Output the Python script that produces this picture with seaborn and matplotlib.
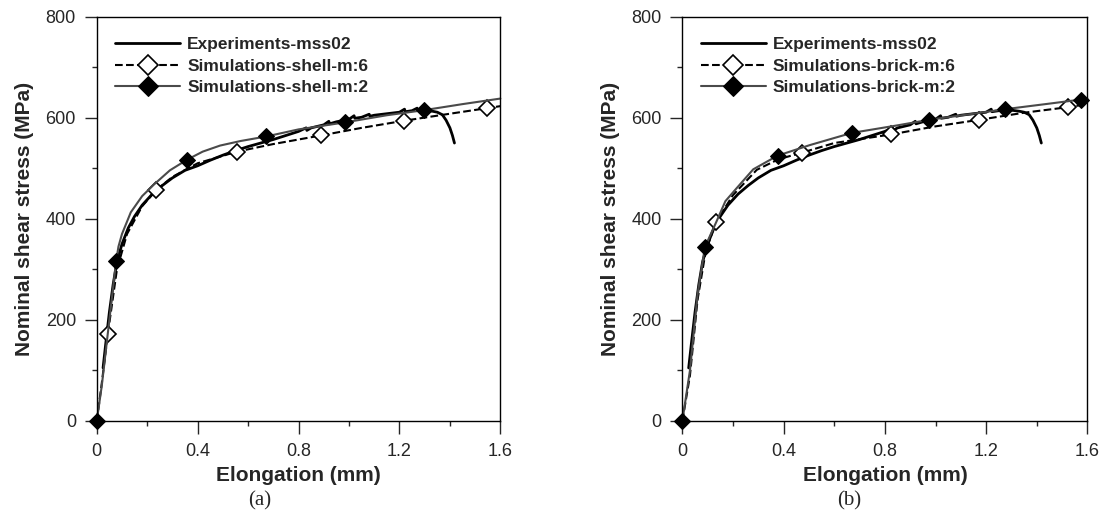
import matplotlib
matplotlib.use("Agg")
import matplotlib.pyplot as plt
import seaborn as sns
from matplotlib.ticker import MultipleLocator, FuncFormatter

# experiment mss02 (same test shown in both panels)
exp_x = [0.025, 0.035, 0.05, 0.065, 0.08, 0.1, 0.125, 0.15, 0.18, 0.22, 0.26, 0.3,
         0.35, 0.4, 0.45, 0.5, 0.55, 0.6, 0.65, 0.7, 0.75, 0.8, 0.83, 0.833, 0.85,
         0.9, 0.92, 0.923, 0.95, 1.0, 1.02, 1.023, 1.05, 1.08, 1.083, 1.1, 1.15,
         1.2, 1.22, 1.223, 1.25, 1.27, 1.273, 1.3, 1.33, 1.35, 1.37, 1.385, 1.4,
         1.41, 1.418]
exp_y = [105, 150, 215, 270, 315, 350, 382, 405, 427, 449, 466, 481,
         496, 505, 516, 526, 535, 543, 550, 557, 565, 573, 580, 575, 580,
         586, 593, 588, 592, 597, 604, 599, 601, 607, 603, 605, 608,
         611, 617, 612, 614, 619, 615, 615, 613, 611, 606, 595, 580,
         565, 550]

# panel (a): shell models
shell6_x = [0, 0.02, 0.044, 0.08, 0.12, 0.18, 0.236, 0.3, 0.4, 0.556, 0.7, 0.889,
            1.05, 1.217, 1.4, 1.547, 1.6]
shell6_y = [0, 75, 173, 300, 370, 425, 457, 483, 510, 533, 548, 565,
            580, 594, 608, 619, 623]
shell6_mk = [2, 6, 9, 11, 13, 15]

shell2_x = [0, 0.02, 0.05, 0.077, 0.086, 0.1, 0.135, 0.18, 0.227, 0.29, 0.358,
            0.42, 0.489, 0.57, 0.672, 0.8, 0.986, 1.15, 1.297, 1.45, 1.6]
shell2_y = [0, 70, 200, 317, 345, 370, 413, 445, 468, 496, 517,
            533, 545, 554, 563, 577, 591, 605, 615, 627, 638]
shell2_mk = [0, 3, 10, 14, 16, 18]

# panel (b): brick models
brick6_x = [0, 0.03, 0.06, 0.092, 0.132, 0.2, 0.294, 0.38, 0.473, 0.6, 0.824, 1.0,
            1.173, 1.35, 1.524, 1.6]
brick6_y = [0, 90, 240, 335, 393, 447, 497, 518, 531, 550, 567, 583,
            596, 610, 621, 627]
brick6_mk = [4, 8, 10, 12, 14]

brick2_x = [0, 0.03, 0.06, 0.089, 0.136, 0.17, 0.215, 0.28, 0.376, 0.504, 0.669,
            0.85, 0.975, 1.15, 1.275, 1.45, 1.574, 1.6]
brick2_y = [0, 100, 250, 344, 396, 435, 461, 498, 525, 546, 570,
            585, 596, 608, 617, 628, 636, 637]
brick2_mk = [0, 3, 8, 10, 12, 14, 16]

panels = [
    ("(a)", "shell", shell6_x, shell6_y, shell6_mk, shell2_x, shell2_y, shell2_mk),
    ("(b)", "brick", brick6_x, brick6_y, brick6_mk, brick2_x, brick2_y, brick2_mk),
]

sns.set_style("ticks")
plt.rcParams['font.family'] = ['Liberation Sans', 'DejaVu Sans']

fig = plt.figure(figsize=(11.07, 5.2), dpi=100)
ax_a = fig.add_axes([0.0874, 0.1904, 0.3646, 0.7775])
ax_b = fig.add_axes([0.6164, 0.1904, 0.3659, 0.7775])
caption_x = [0.235, 0.767]

for ax, (tag, kind, x6, y6, mk6, x2, y2, mk2), cx in zip([ax_a, ax_b], panels, caption_x):
    sns.lineplot(x=exp_x, y=exp_y, ax=ax, sort=False, estimator=None,
                 color="black", linewidth=2.0, label="Experiments-mss02")
    sns.lineplot(x=x6, y=y6, ax=ax, sort=False, estimator=None,
                 color="black", linewidth=1.5, linestyle="--",
                 marker="D", markevery=mk6, markersize=8, clip_on=False,
                 markerfacecolor="white", markeredgecolor="black", markeredgewidth=1.2,
                 label=f"Simulations-{kind}-m:6")
    sns.lineplot(x=x2, y=y2, ax=ax, sort=False, estimator=None,
                 color="#4a4a4a", linewidth=1.5,
                 marker="D", markevery=mk2, markersize=8, clip_on=False,
                 markerfacecolor="black", markeredgecolor="black",
                 label=f"Simulations-{kind}-m:2")

    ax.set_xlim(0, 1.6)
    ax.set_ylim(0, 800)
    ax.xaxis.set_major_locator(MultipleLocator(0.4))
    ax.xaxis.set_minor_locator(MultipleLocator(0.2))
    ax.yaxis.set_major_locator(MultipleLocator(200))
    ax.yaxis.set_minor_locator(MultipleLocator(100))
    ax.xaxis.set_major_formatter(FuncFormatter(
        lambda v, p: "0" if abs(v) < 1e-9 else f"{v:.1f}"))
    ax.yaxis.set_major_formatter(FuncFormatter(lambda v, p: f"{v:.0f}"))
    ax.tick_params(axis="both", which="major", direction="out", length=9, width=1,
                   labelsize=13)
    ax.tick_params(axis="both", which="minor", direction="out", length=3.6, width=1)
    ax.tick_params(axis="x", which="major", pad=7)
    ax.tick_params(axis="y", which="major", pad=6)
    for s in ax.spines.values():
        s.set_linewidth(1.0)
        s.set_color("black")

    ax.set_xlabel("Elongation (mm)", fontsize=15, fontweight="bold", labelpad=4)
    ax.set_ylabel("Nominal shear stress (MPa)", fontsize=15, fontweight="bold", labelpad=8)

    ax.legend(loc="upper left", frameon=False, prop={"weight": "bold", "size": 12.5},
              handlelength=3.75, handletextpad=0.4, markerscale=1.3, labelspacing=0.35,
              bbox_to_anchor=(0.02, 0.975), borderaxespad=0.2)

    fig.text(cx, 0.036, tag, fontsize=15, family=["Liberation Serif", "DejaVu Serif"],
             ha="center", va="center")

fig.savefig("out.png", dpi=100)
